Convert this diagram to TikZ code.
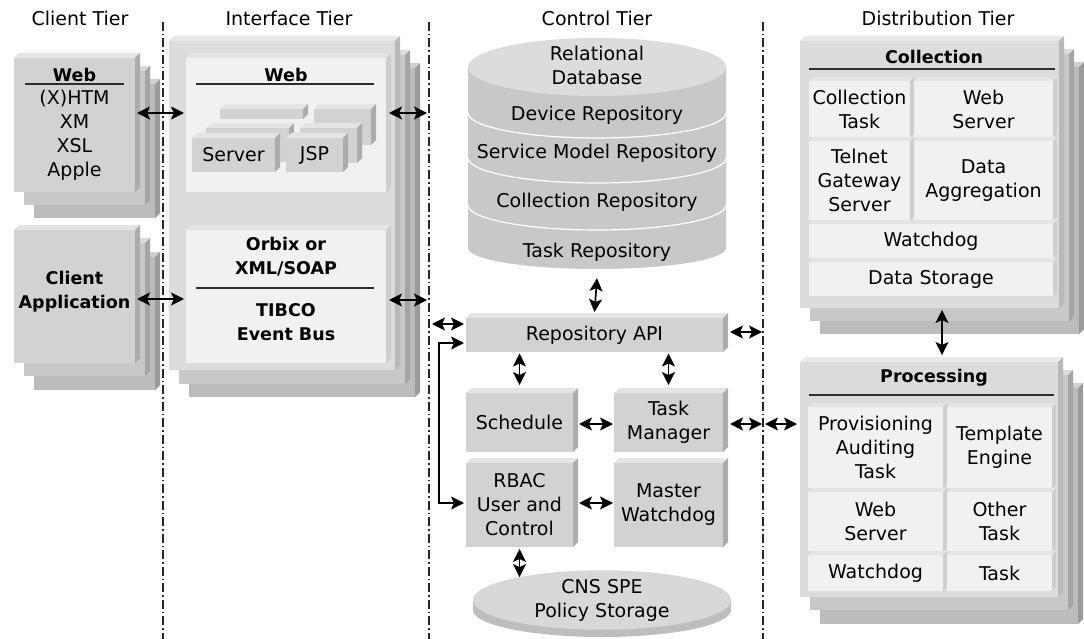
\documentclass[tikz,border=0pt]{standalone}
\usepackage{fontspec}
\setmainfont{DejaVu Sans}
\usetikzlibrary{arrows.meta,shapes.geometric}
\definecolor{cface}{RGB}{210,210,210}
\definecolor{ctop}{RGB}{228,228,228}
\definecolor{cside}{RGB}{172,172,172}
\definecolor{dface}{RGB}{200,200,200}
\definecolor{dtop}{RGB}{218,218,218}
\definecolor{dside}{RGB}{165,165,165}
\definecolor{eface}{RGB}{188,188,188}
\definecolor{etop}{RGB}{208,208,208}
\definecolor{eside}{RGB}{155,155,155}
\definecolor{kface}{RGB}{220,220,220}
\definecolor{ktop}{RGB}{233,233,233}
\definecolor{kside}{RGB}{185,185,185}
\definecolor{pface}{RGB}{241,241,241}
\definecolor{ptop}{RGB}{228,228,228}
\definecolor{pside}{RGB}{206,206,206}
\definecolor{cylbody}{RGB}{200,200,200}
\definecolor{cyltop}{RGB}{220,220,220}
\definecolor{cnsrim}{RGB}{190,190,190}
\definecolor{cnstop}{RGB}{216,216,216}
\definecolor{rulec}{RGB}{45,45,45}

% name, x0, y0, w, h, colour prefix, depth, text
\newcommand\mycube[8]{%
  \node[cubeface, fill=#6face, minimum width=#4pt, minimum height=#5pt, anchor=north west] (#1) at (#2,#3) {#8};
  \fill[#6top] (#1.north west) -- ++(#7,-#7) -- ([shift={(#7,-#7)}]#1.north east) -- (#1.north east) -- cycle;
  \fill[#6side] (#1.north east) -- ++(#7,-#7) -- ([shift={(#7,-#7)}]#1.south east) -- (#1.south east) -- cycle;
}

\begin{document}
\begin{tikzpicture}[x=1pt,y=-1pt,
  font=\fontsize{19}{24}\selectfont,
  cubeface/.style={rectangle, inner sep=0pt, outer sep=0pt, align=center},
  lbl/.style={inner sep=0pt, align=center},
  bold/.style={inner sep=0pt, align=center, font=\fontsize{17.5}{24}\selectfont\bfseries},
  tierrule/.style={line width=1.3pt, dash pattern=on 9pt off 3pt on 1.5pt off 3pt, black!85},
  hrule/.style={line width=1.8pt, rulec},
  dbl/.style={{Stealth[length=13pt,width=13pt,inset=3pt]}-{Stealth[length=13pt,width=13pt,inset=3pt]}, line width=1.7pt},
]
\useasboundingbox[fill=white] (0,0) rectangle (1084,639);

% tier labels
\node[lbl] (tClient) at (80,18) {Client Tier};
\node[lbl] (tIface) at (289,18) {Interface Tier};
\node[lbl] (tCtrl) at (597,18) {Control Tier};
\node[lbl] (tDist) at (938,18) {Distribution Tier};

% tier dividers
\draw[tierrule] (163,22) -- (163,639);
\draw[tierrule] (429,22) -- (429,639);
\draw[tierrule] (763,22) -- (763,639);

% ---------- Client tier
\mycube{cweb3}{34}{84}{121}{134}{e}{5}{}
\mycube{cweb2}{24}{71}{121}{134}{d}{5}{}
\mycube{cweb}{14}{58}{121}{134}{c}{5}{}
\node[bold] (cwebT) at (74.5,75) {Web};
\draw[hrule] (25,84) -- (124,84);
\node[lbl] (cwebL) at (74.5,135.5) {(X)HTM\\XM\\XSL\\Apple};

\mycube{capp3}{34}{257}{121}{133}{e}{5}{}
\mycube{capp2}{24}{243}{121}{133}{d}{5}{}
\mycube{capp}{14}{230}{121}{133}{c}{5}{}
\node[bold] (cappT) at (74.5,292) {Client\\Application};

% ---------- Interface tier
\mycube{ic3}{189}{68}{226}{329}{e}{5}{}
\mycube{ic2}{179}{55}{226}{329}{d}{5}{}
\mycube{ic}{169}{41}{226}{329}{k}{5}{}
\mycube{iweb}{186}{58}{200}{134}{p}{5}{}
\node[bold] (iwebT) at (286,75) {Web};
\draw[hrule] (196,84) -- (374,84);
\mycube{srv3}{220}{109}{83}{10}{c}{5}{}
\mycube{jsp3}{314}{109}{57}{36}{c}{5}{}
\mycube{srv2}{206}{128}{83}{34}{c}{5}{}
\mycube{jsp2}{300}{128}{57}{35}{c}{5}{}
\mycube{srv}{192}{138}{83}{34}{c}{5}{Server}
\mycube{jsp}{286}{138}{57}{34}{c}{5}{JSP}

\mycube{iorb}{186}{230}{200}{133}{p}{5}{}
\node[bold] (iorbT) at (286,257) {Orbix or\\XML/SOAP};
\draw[hrule] (196,288) -- (374,288);
\node[bold] (iorbB) at (286,322) {TIBCO\\Event Bus};

% ---------- Control tier
\fill[cylbody] (468,67) -- (468,248) arc[start angle=180, end angle=360, x radius=129pt, y radius=21pt] -- (726,67) -- cycle;
\fill[cyltop] (597,67) ellipse [x radius=129pt, y radius=29pt];
\draw[white, line width=1.2pt] (468,113) arc[start angle=180, end angle=360, x radius=129pt, y radius=25pt];
\draw[white, line width=1.2pt] (468,158) arc[start angle=180, end angle=360, x radius=129pt, y radius=25pt];
\draw[white, line width=1.2pt] (468,205) arc[start angle=180, end angle=360, x radius=129pt, y radius=25pt];
\node[inner sep=0pt, minimum width=258pt, minimum height=231pt] (db) at (597,153.5) {};
\node[lbl] (dbT) at (597,65) {Relational\\Database};
\node[lbl] (dbD) at (597,115) {Device Repository};
\node[lbl] (dbS) at (597,153) {Service Model Repository};
\node[lbl] (dbC) at (597,202) {Collection Repository};
\node[lbl] (dbK) at (597,252) {Task Repository};

\mycube{api}{466}{318}{257}{34}{c}{5}{Repository API}
\mycube{sched}{466}{393}{107}{59}{c}{5}{Schedule}
\mycube{tm}{614}{393}{109}{59}{c}{5}{Task\\Manager}
\mycube{rbac}{466}{463}{107}{84}{c}{5}{RBAC\\User and\\Control}
\mycube{mw}{614}{463}{109}{84}{c}{5}{Master\\Watchdog}

\fill[cnsrim] (473,600) -- (473,610) arc[start angle=180, end angle=360, x radius=129pt, y radius=27pt] -- (731,600) -- cycle;
\node[ellipse, fill=cnstop, inner sep=0pt, minimum width=258pt, minimum height=54pt, align=center] (cns) at (602,600) {CNS SPE\\Policy Storage};

% ---------- Distribution tier
\mycube{coll3}{820}{67}{259}{267}{e}{5}{}
\mycube{coll2}{810}{54}{259}{267}{d}{5}{}
\mycube{coll}{800}{41}{259}{267}{k}{5}{}
\node[bold] (collT) at (934,57) {Collection};
\draw[hrule] (809,69) -- (1055,69);
\mycube{cA}{809}{81}{101}{56}{p}{4}{Collection\\Task}
\mycube{cB}{914}{81}{139}{56}{p}{4}{Web\\Server}
\mycube{cC}{809}{141}{101}{79}{p}{4}{Telnet\\Gateway\\Server}
\mycube{cD}{914}{141}{139}{79}{p}{4}{Data\\Aggregation}
\mycube{cE}{809}{224}{244}{34}{p}{4}{Watchdog}
\mycube{cF}{809}{262}{244}{34}{p}{4}{Data Storage}

\mycube{proc3}{820}{388}{258}{236}{e}{5}{}
\mycube{proc2}{810}{375}{258}{235}{d}{5}{}
\mycube{proc}{800}{362}{258}{235}{k}{5}{}
\node[bold] (procT) at (934,378) {Processing};
\draw[hrule] (809,395) -- (1054,395);
\mycube{pA}{808}{407}{135}{81}{p}{4}{Provisioning\\Auditing\\Task}
\mycube{pB}{947}{407}{105}{81}{p}{4}{Template\\Engine}
\mycube{pC}{808}{492}{135}{59}{p}{4}{Web\\Server}
\mycube{pD}{947}{492}{105}{59}{p}{4}{Other\\Task}
\mycube{pE}{808}{555}{135}{36}{p}{4}{Watchdog}
\mycube{pF}{947}{555}{105}{36}{p}{4}{Task}

% ---------- connectors
\coordinate (ifR1) at (427,113);
\coordinate (ifR2) at (427,300);
\coordinate (apiL) at (432,324);
\coordinate (apiR) at (762,332);
\coordinate (tmR) at (762,424);
\coordinate (procL) at (765,424);
\coordinate (p1) at (proc.west |- procL);
\coordinate (a1) at (sched.north |- api.south);
\coordinate (a2) at (tm.north |- api.south);
\coordinate (c1) at (rbac.south |- cns.north);

\draw[dbl] ([xshift=2pt,yshift=12pt]cweb.east) -- ([xshift=-2pt,yshift=12pt]iweb.west);
\draw[dbl] ([xshift=2pt,yshift=-2.5pt]capp.east) -- ([xshift=-2pt,yshift=-2.5pt]iorb.west);
\draw[dbl] ([xshift=3pt,yshift=12pt]iweb.east) -- (ifR1);
\draw[dbl] ([xshift=3pt,yshift=-3.5pt]iorb.east) -- (ifR2);

\draw[dbl] ([yshift=-9pt]db.south) -- ([yshift=6pt]api.north);
\draw[dbl] (apiL) -- ([xshift=-2pt,yshift=11pt]api.west);
\draw[dbl] ([xshift=-2pt,yshift=-8pt]api.west) -- ++(-25,0) |- ([xshift=-2pt,yshift=2pt]rbac.west);
\draw[dbl] ([xshift=7pt,yshift=3pt]api.east) -- (apiR);
\draw[dbl] ([yshift=-1.5pt]a1) -- ([yshift=8pt]sched.north);
\draw[dbl] ([yshift=-1.5pt]a2) -- ([yshift=8pt]tm.north);
\draw[dbl] ([xshift=6pt,yshift=-1.5pt]sched.east) -- ([xshift=-1pt,yshift=-1.5pt]tm.west);
\draw[dbl] ([xshift=7pt,yshift=-1.5pt]tm.east) -- (tmR);
\draw[dbl] (procL) -- ([xshift=-3pt]p1);
\draw[dbl] ([xshift=6pt,yshift=2pt]rbac.east) -- ([xshift=-1pt,yshift=2pt]mw.west);
\draw[dbl] ([yshift=-2pt]rbac.south) -- ([yshift=-7pt]c1);
\draw[dbl] ([xshift=12.5pt,yshift=-2pt]coll.south) -- ([xshift=13pt,yshift=7pt]proc.north);
\end{tikzpicture}
\end{document}
